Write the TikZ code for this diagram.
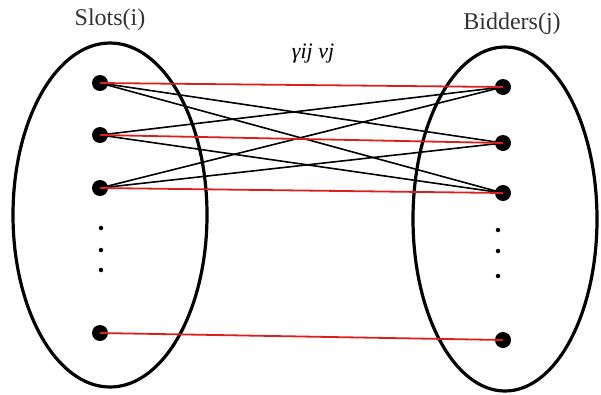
\documentclass[tikz,border=0pt]{standalone}
\usepackage{fontspec}
\setmainfont{Liberation Serif}
\begin{document}
\begin{tikzpicture}[x=1pt,y=-1pt,
  bigdot/.style={circle,fill=black,inner sep=0pt,minimum size=16pt},
  smalldot/.style={circle,fill=black,inner sep=0pt,minimum size=4.5pt},
  redline/.style={draw={rgb,255:red,220;green,30;blue,30},line width=1.8pt},
  blackline/.style={draw=black,line width=1.6pt},
  lbl/.style={font=\fontsize{24}{28}\selectfont,text=black!80}]
\useasboundingbox (0,0) rectangle (601,394);
\draw[line width=3.2pt] (110,215) ellipse [x radius=97, y radius=172];
\draw[line width=3.2pt] (505,219) ellipse [x radius=92, y radius=172];
\node[lbl] (slots) at (110,20) {Slots(i)};
\node[lbl] (bidders) at (512,24) {Bidders(j)};
\node[font=\fontsize{22}{26}\selectfont\itshape] (gam) at (313,54) {γij vj};
\node[bigdot] (s1) at (100,83) {};
\node[bigdot] (s2) at (100,135) {};
\node[bigdot] (s3) at (100,188) {};
\node[bigdot] (s4) at (100,333) {};
\node[bigdot] (b1) at (503,87) {};
\node[bigdot] (b2) at (503,143) {};
\node[bigdot] (b3) at (503,193) {};
\node[bigdot] (b4) at (503,340) {};
\node[smalldot] (sd1) at (101,228) {};
\node[smalldot] (sd2) at (101,250) {};
\node[smalldot] (sd3) at (101,270) {};
\node[smalldot] (bd1) at (498,230) {};
\node[smalldot] (bd2) at (498,251) {};
\node[smalldot] (bd3) at (498,276) {};
\draw[blackline] (s1.center) -- (b2.center);
\draw[blackline] (s1.center) -- (b3.center);
\draw[blackline] (s2.center) -- (b1.center);
\draw[blackline] (s2.center) -- (b3.center);
\draw[blackline] (s3.center) -- (b1.center);
\draw[blackline] (s3.center) -- (b2.center);
\draw[redline] (s1.center) -- (b1.center);
\draw[redline] (s2.center) -- (b2.center);
\draw[redline] (s3.center) -- (b3.center);
\draw[redline] (s4.center) -- (b4.center);
\end{tikzpicture}
\end{document}
